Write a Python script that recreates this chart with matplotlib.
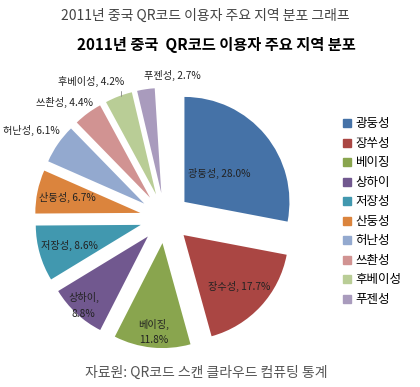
import numpy as np
import matplotlib
matplotlib.use("Agg")
import matplotlib.pyplot as plt

plt.rcParams['font.family'] = ['Noto Sans CJK KR', 'DejaVu Sans']

# data (share in %)
regions = ['광둥성', '장수성', '베이징', '상하이', '저장성', '산둥성', '허난성', '쓰촨성', '후베이성', '푸젠성']
legend_names = ['광둥성', '장쑤성', '베이징', '상하이', '저장성', '산둥성', '허난성', '쓰촨성', '후베이성', '푸젠성']
shares = [28.0, 17.7, 11.8, 8.8, 8.6, 6.7, 6.1, 4.4, 4.2, 2.7]

colors = ['#4572A7', '#AA4643', '#89A54E', '#71588F', '#4198AF',
          '#DB843D', '#93A9CF', '#D19392', '#B9CD96', '#A99BBD']

fig = plt.figure(figsize=(4.2, 3.87), dpi=100)
fig.text(0.49, 0.958, '2011년 중국 QR코드 이용자 주요 지역 분포 그래프', ha='center', va='center',
         fontsize=10, color='#444444')
fig.text(0.516, 0.883, '2011년 중국  QR코드 이용자 주요 지역 분포', ha='center', va='center',
         fontsize=11, fontweight='bold')
fig.text(0.49, 0.037, '자료원: QR코드 스캔 클라우드 컴퓨팅 통계', ha='center', va='center',
         fontsize=10, color='#555555')

ax = fig.add_axes([0.0179, 0.0297, 0.75, 0.814])
fracs = np.array(shares) / 100.0
explode = [0.24] * len(shares)
wedges, _ = ax.pie(fracs, colors=colors, startangle=90, counterclock=False,
                   explode=explode, normalize=False, radius=1.0)
ax.set_aspect('equal')
ax.set_xlim(-1.5, 1.5)
ax.set_ylim(-1.5, 1.5)

# label placement: distance from pie centre, angle nudge (deg) and alignment per slice
label_r = [0.67, 0.96, 1.09, 1.14, 0.95, 0.95, 1.3, 1.3, 1.36, 1.375]
label_da = [0, 0, 0, 0, 0, 0, -5, -4.5, -4.5, 0]
label_ha = ['center'] * 6 + ['right', 'right', 'right', 'left']
two_line = [False, False, True, True, False, False, False, False, False, False]
for i, (w, name, s) in enumerate(zip(wedges, regions, shares)):
    mid = np.deg2rad((w.theta1 + w.theta2) / 2)
    ang = np.deg2rad((w.theta1 + w.theta2) / 2 + label_da[i])
    x = label_r[i] * np.cos(ang)
    y = label_r[i] * np.sin(ang)
    sep = ',\n' if two_line[i] else ', '
    txt = f'{name}{sep}{s:.1f}%'
    if name == '후베이성':
        ex = (1.0 + explode[i]) * np.cos(mid)
        ey = (1.0 + explode[i]) * np.sin(mid)
        ax.annotate(txt, xy=(ex + 0.02, ey), xytext=(x, y), ha='right', va='center',
                    fontsize=7.3, color='#222222',
                    arrowprops=dict(arrowstyle='-', color='#888888', lw=0.6,
                                    shrinkA=1, shrinkB=0,
                                    connectionstyle='angle,angleA=0,angleB=90,rad=0'))
    else:
        ax.text(x, y, txt, ha=label_ha[i], va='center', fontsize=7.3, color='#222222',
                linespacing=1.7)

handles = [plt.Rectangle((0, 0), 1, 1, color=c) for c in colors]
fig.legend(handles, legend_names, loc='center left', bbox_to_anchor=(0.79, 0.453),
           frameon=False, fontsize=9, handlelength=0.6, handleheight=0.6,
           handletextpad=0.4, labelspacing=0.52)

fig.savefig('out.png', dpi=100)
